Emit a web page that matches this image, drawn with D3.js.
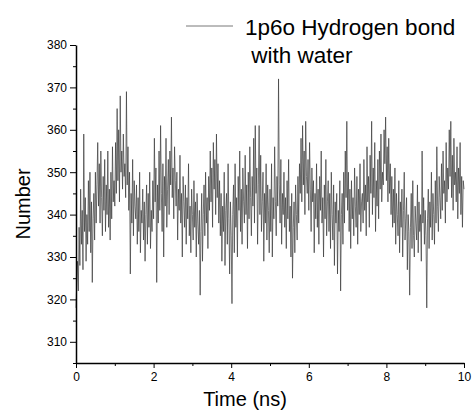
<!DOCTYPE html>
<html>
<head>
<meta charset="utf-8">
<script src="https://d3js.org/d3.v7.min.js"></script>
<style>
  body { margin: 0; background: #fff; }
  svg text { font-family: "Liberation Sans", Arial, sans-serif; }
</style>
</head>
<body>
<div id="chart"></div>
<script>
const timeStep = 0.02;
const hbonds = [
  318, 324, 329, 322, 337, 328, 346, 333, 341, 327,
  359, 336, 344, 329, 340, 333, 348, 336, 350, 331,
  343, 324, 339, 345, 334, 350, 338, 347, 357, 342,
  352, 338, 355, 344, 335, 349, 341, 353, 336, 347,
  340, 355, 337, 346, 334, 350, 339, 356, 343, 348,
  342, 357, 345, 365, 348, 360, 343, 368, 350, 355,
  346, 359, 349, 352, 344, 369, 347, 356, 341, 350,
  326, 345, 338, 353, 335, 348, 342, 339, 347, 333,
  344, 336, 350, 331, 341, 338, 346, 334, 343, 329,
  340, 347, 333, 345, 337, 350, 332, 341, 336, 348,
  339, 358, 343, 351, 324, 347, 338, 355, 341, 361,
  345, 336, 352, 330, 349, 342, 358, 337, 346, 353,
  340, 355, 347, 363, 344, 351, 339, 356, 348, 342,
  350, 334, 346, 341, 354, 338, 345, 330, 349, 343,
  337, 347, 333, 344, 339, 352, 335, 342, 331, 346,
  340, 334, 348, 337, 343, 330, 345, 338, 333, 341,
  321, 336, 345, 329, 340, 347, 335, 350, 338, 344,
  332, 349, 341, 355, 343, 351, 337, 357, 346, 353,
  340, 359, 344, 352, 338, 348, 335, 345, 329, 342,
  336, 350, 328, 341, 345, 333, 352, 339, 326, 343,
  335, 319, 340, 347, 331, 352, 337, 344, 330, 349,
  341, 355, 336, 346, 333, 351, 343, 338, 354, 340,
  347, 332, 350, 339, 356, 344, 335, 349, 342, 358,
  338, 361, 345, 351, 333, 347, 361, 340, 354, 336,
  343, 350, 329, 345, 338, 352, 334, 347, 341, 331,
  346, 336, 352, 330, 344, 339, 356, 343, 335, 349,
  342, 372, 347, 338, 353, 333, 345, 340, 350, 337,
  344, 332, 348, 339, 353, 336, 342, 330, 345, 325,
  337, 343, 331, 347, 340, 334, 349, 338, 352, 345,
  358, 343, 361, 347, 355, 340, 362, 349, 345, 353,
  341, 357, 346, 336, 351, 343, 348, 331, 345, 339,
  352, 337, 346, 333, 349, 341, 355, 338, 344, 330,
  347, 339, 353, 335, 343, 348, 336, 345, 332, 350,
  340, 334, 347, 328, 343, 338, 345, 326, 341, 336,
  348, 322, 340, 345, 333, 350, 338, 355, 344, 362,
  341, 350, 336, 346, 332, 348, 339, 344, 335, 351,
  342, 337, 349, 333, 346, 340, 352, 336, 343, 345,
  338, 353, 341, 347, 335, 356, 343, 349, 337, 354,
  345, 362, 340, 351, 344, 357, 336, 348, 342, 353,
  339, 355, 346, 359, 343, 350, 347, 360, 352, 363,
  348, 356, 343, 358, 345, 352, 340, 349, 337, 346,
  338, 351, 333, 345, 340, 335, 348, 331, 343, 337,
  346, 330, 341, 350, 334, 339, 344, 327, 340, 336,
  321, 337, 345, 332, 348, 335, 330, 342, 338, 334,
  347, 331, 343, 336, 340, 329, 355, 338, 344, 333,
  341, 335, 318, 339, 346, 332, 343, 337, 350, 334,
  345, 340, 333, 348, 338, 356, 342, 336, 349, 344,
  339, 352, 341, 355, 345, 348, 338, 357, 343, 351,
  346, 360, 349, 362, 344, 354, 341, 358, 347, 350,
  343, 356, 339, 351, 345, 357, 340, 349, 337, 348, 346
];
const xTicks = [0, 2, 4, 6, 8, 10];
const xMinor = [1, 3, 5, 7, 9];
const yTicks = [310, 320, 330, 340, 350, 360, 370, 380];
const yMinor = [305, 315, 325, 335, 345, 355, 365, 375];
const legendLines = ['1p6o Hydrogen bond', ' with water'];

const width = 475;
const height = 414;
const margin = { top: 45, right: 11, bottom: 51, left: 76 };

const svg = d3.select('#chart')
  .append('svg')
  .attr('width', width)
  .attr('height', height);

const x = d3.scaleLinear()
  .domain([0, 10])
  .range([margin.left, width - margin.right]);

const y = d3.scaleLinear()
  .domain([305, 380])
  .range([height - margin.bottom, margin.top]);

const data = hbonds.map((v, i) => ({ t: i * timeStep, v: v }));

// the trace
svg.append('path')
  .datum(data)
  .attr('fill', 'none')
  .attr('stroke', '#3a3a3a')
  .attr('stroke-width', 0.7)
  .attr('d', d3.line().x(d => x(d.t)).y(d => y(d.v)));

// axes
const xAxis = svg.append('g')
  .attr('transform', `translate(0,${height - margin.bottom})`)
  .call(d3.axisBottom(x).tickValues(xTicks).tickSize(5).tickSizeOuter(0).tickPadding(4));

svg.append('g')
  .attr('transform', `translate(0,${height - margin.bottom})`)
  .call(d3.axisBottom(x).tickValues(xMinor).tickSize(3).tickFormat(''))
  .select('.domain').remove();

const yAxis = svg.append('g')
  .attr('transform', `translate(${margin.left},0)`)
  .call(d3.axisLeft(y).tickValues(yTicks).tickSize(6).tickSizeOuter(0).tickPadding(3));

svg.append('g')
  .attr('transform', `translate(${margin.left},0)`)
  .call(d3.axisLeft(y).tickValues(yMinor).tickSize(3).tickFormat(''))
  .select('.domain').remove();

svg.selectAll('.domain').attr('stroke-width', 1.5);
svg.selectAll('.tick line').attr('stroke-width', 1);
svg.selectAll('.tick text')
  .attr('font-size', 12)
  .attr('font-family', '"Liberation Sans", Arial, sans-serif')
  .attr('fill', '#000');

// axis titles
svg.append('text')
  .attr('x', 245)
  .attr('y', 406)
  .attr('text-anchor', 'middle')
  .attr('font-size', 20)
  .text('Time (ns)');

svg.append('text')
  .attr('transform', `translate(30,${(margin.top + height - margin.bottom) / 2}) rotate(-90)`)
  .attr('text-anchor', 'middle')
  .attr('font-size', 20)
  .text('Number');

// legend
svg.append('line')
  .attr('x1', 186).attr('x2', 233)
  .attr('y1', 26).attr('y2', 26)
  .attr('stroke', '#555')
  .attr('stroke-width', 0.8);

svg.append('text')
  .attr('x', 245)
  .attr('y', 35)
  .attr('font-size', 22.5)
  .text(legendLines[0]);

svg.append('text')
  .attr('x', 245)
  .attr('y', 63)
  .attr('font-size', 22.5)
  .attr('xml:space', 'preserve')
  .style('white-space', 'pre')
  .text(legendLines[1]);
</script>
</body>
</html>
